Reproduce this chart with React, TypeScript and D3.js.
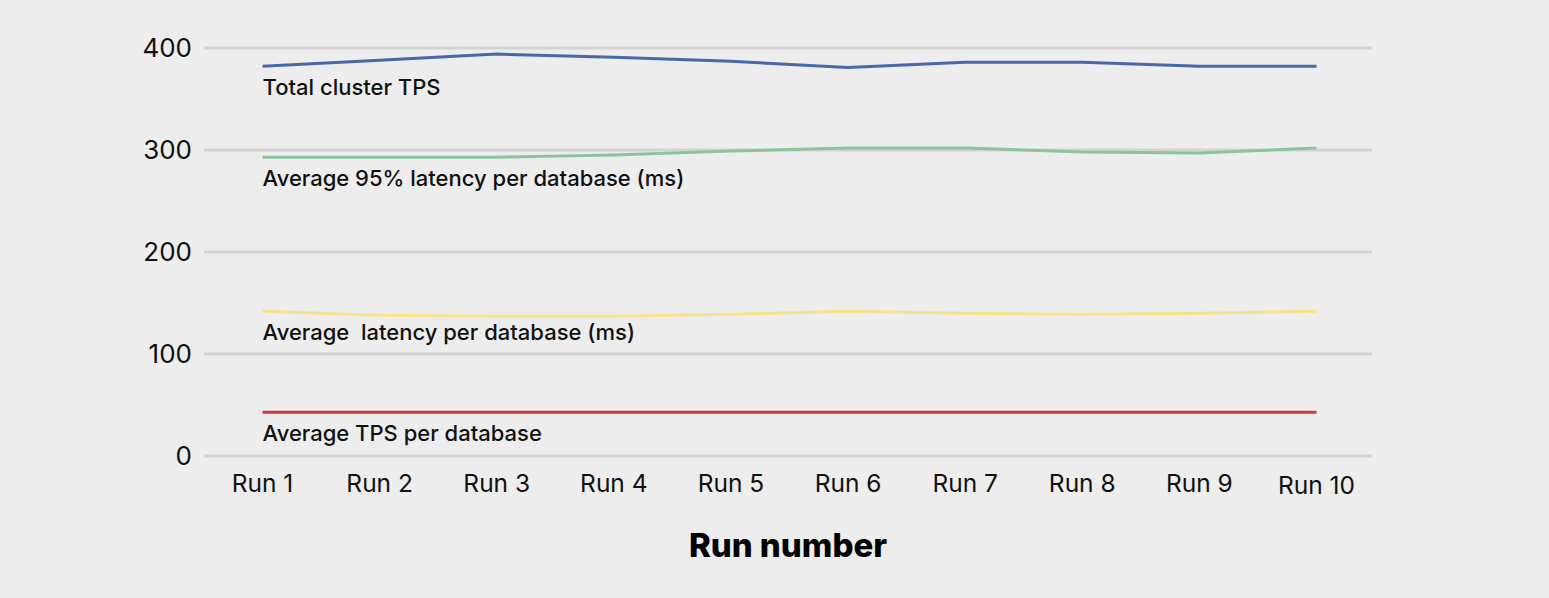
import React from "react";
import * as d3 from "d3";

const runs = ["Run 1", "Run 2", "Run 3", "Run 4", "Run 5", "Run 6", "Run 7", "Run 8", "Run 9", "Run 10"];
const totalClusterTPS = [382, 388, 394, 391, 387, 381, 386, 386, 382, 382];
const avg95Latency = [293, 293, 293, 295, 299, 302, 302, 298, 297, 302];
const avgLatency = [142, 138, 137, 137, 139, 142, 140, 139, 140, 142];
const avgTPS = [43, 43, 43, 43, 43, 43, 43, 43, 43, 43];
const yTicks = [0, 100, 200, 300, 400];

const seriesNames = [
  "Total cluster TPS",
  "Average 95% latency per database (ms)",
  "Average  latency per database (ms)",
  "Average TPS per database",
];
const seriesValues = [totalClusterTPS, avg95Latency, avgLatency, avgTPS];
const seriesColors = ["#4868a8", "#8cc39b", "#f7e38e", "#d7363f"];

const W = 1549;
const H = 598;
const FONT = "Inter, 'Open Sans', sans-serif";

export default function App() {
  const x = d3.scaleBand<string>().domain(runs).range([204, 1375]);
  const y = d3.scaleLinear().domain([0, 400]).range([456, 48]);
  const line = d3
    .line<number>()
    .x((_, i) => (x(runs[i]) as number) + x.bandwidth() / 2)
    .y((d) => y(d));

  return (
    <div style={{ position: "absolute", left: 0, top: 0 }}>
      <svg width={W} height={H} style={{ display: "block", background: "#ededed" }}>
        <rect width={W} height={H} fill="#ededed" />
        {yTicks.map((t) => (
          <g key={t}>
            <line x1={204} x2={1372} y1={y(t)} y2={y(t)} stroke="#d3d3d3" strokeWidth={3} />
            <text x={192} y={y(t) + 9} textAnchor="end" fontFamily={FONT} fontSize={26} fill="#111">
              {t}
            </text>
          </g>
        ))}
        {runs.map((r) => (
          <text
            key={r}
            x={(x(r) as number) + x.bandwidth() / 2}
            y={r === "Run 10" ? 494 : 492}
            textAnchor="middle"
            fontFamily={FONT}
            fontSize={24.5}
            fill="#111"
          >
            {r}
          </text>
        ))}
        {seriesValues.map((vals, i) => (
          <g key={seriesNames[i]}>
            <path d={line(vals) as string} fill="none" stroke={seriesColors[i]} strokeWidth={3} />
            <text
              x={(x(runs[0]) as number) + x.bandwidth() / 2}
              y={y(vals[0]) + 29}
              fontFamily={FONT}
              fontSize={22}
              fontWeight={500}
              fill="#111"
              style={{ whiteSpace: "pre" }}
            >
              {seriesNames[i]}
            </text>
          </g>
        ))}
        <text x={788} y={557} textAnchor="middle" fontFamily={FONT} fontSize={33} fontWeight={800} fill="#000">
          Run number
        </text>
      </svg>
    </div>
  );
}
